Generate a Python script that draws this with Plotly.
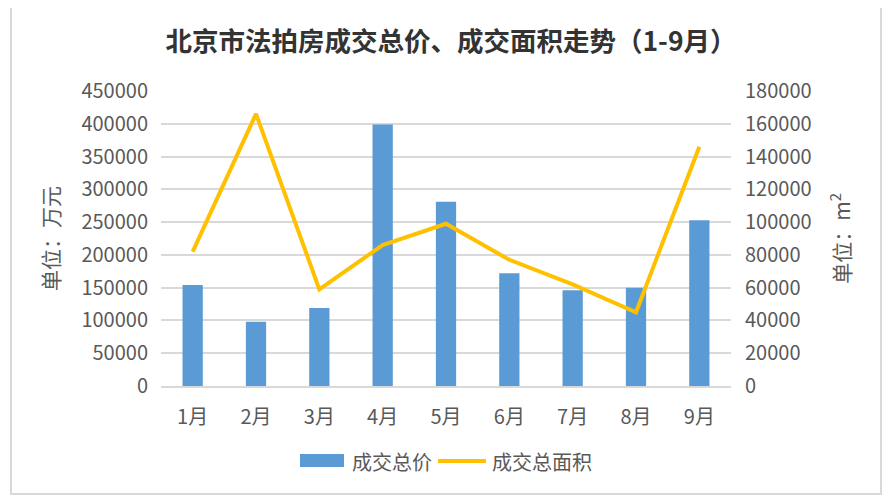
import plotly.graph_objects as go

months = ["1月", "2月", "3月", "4月", "5月", "6月", "7月", "8月", "9月"]
total_price = [154000, 98000, 119000, 399000, 281000, 172000, 146000, 150000, 253000]
total_area = [82000, 166000, 59000, 86000, 99000, 77000, 62000, 45000, 146000]
price_name = "成交总价"
area_name = "成交总面积"
title_text = "北京市法拍房成交总价、成交面积走势（1-9月）"

# page body has an 8px margin; work in window pixel coordinates
OFF = 8
W, H = 894 - OFF, 502 - OFF
# plot area in window pixels
X0, X1, Y0, Y1 = 161, 731, 91, 386
L, T = X0 - OFF, Y0 - OFF
R, B = W - (X1 - OFF), H - (Y1 - OFF)
PW, PH = X1 - X0, Y1 - Y0

def px(x):
    return (x - X0) / PW

def py(y):
    return (Y1 - y) / PH

FONT = "Noto Sans CJK SC, Microsoft YaHei, sans-serif"
GRAY = "#595959"
BLUE = "#5B9BD5"
GOLD = "#FFC000"

fig = go.Figure()
fig.add_trace(go.Bar(x=months, y=total_price, name=price_name, marker_color=BLUE,
                     marker_line_width=0, yaxis="y"))
fig.add_trace(go.Scatter(x=months, y=total_area, name=area_name, mode="lines",
                         line=dict(color=GOLD, width=4), yaxis="y2"))

fig.update_layout(
    width=W, height=H,
    margin=dict(l=L, r=R, t=T, b=B, autoexpand=False),
    paper_bgcolor="white", plot_bgcolor="white",
    font=dict(family=FONT, size=20, color=GRAY),
    showlegend=False,
    bargap=0.68,
    title=dict(text=f"<b>{title_text}</b>", x=0.5, xanchor="center", y=1 - (42 - OFF) / H,
               yanchor="middle", font=dict(size=26.5, color="#333333", family=FONT)),
    xaxis=dict(showgrid=False, showline=True, linecolor="#d9d9d9", linewidth=1.5,
               ticks="", ticklabelstandoff=12, tickfont=dict(size=20, color=GRAY)),
    yaxis=dict(range=[0, 450000], dtick=50000, showgrid=True, gridcolor="#d9d9d9",
               gridwidth=1.5, zeroline=False, showline=False, ticks="",
               ticklabelstandoff=12, tickformat="d", tickfont=dict(size=20, color=GRAY),
               title=dict(text="单位：万元", standoff=16, font=dict(size=21, color=GRAY))),
    yaxis2=dict(range=[0, 180000], dtick=20000, overlaying="y", side="right",
                showgrid=False, zeroline=False, showline=False, ticks="",
                ticklabelstandoff=13, tickformat="d", tickfont=dict(size=20, color=GRAY),
                title=dict(text="单位：m<sup>2</sup>", standoff=24, font=dict(size=21, color=GRAY))),
)

# frame
fig.add_shape(type="rect", xref="paper", yref="paper", x0=px(11), x1=px(881), y0=py(494), y1=py(7),
              line=dict(color="#d9d9d9", width=2), layer="below")

# custom legend
fig.add_shape(type="rect", xref="paper", yref="paper", x0=px(300), x1=px(344), y0=py(467), y1=py(454),
              fillcolor=BLUE, line=dict(width=0))
fig.add_shape(type="line", xref="paper", yref="paper", x0=px(438), x1=px(486), y0=py(461), y1=py(461),
              line=dict(color=GOLD, width=4))
fig.add_annotation(text=price_name, xref="paper", yref="paper", x=px(350), y=py(461),
                   xanchor="left", yanchor="middle", showarrow=False, font=dict(size=20, color=GRAY))
fig.add_annotation(text=area_name, xref="paper", yref="paper", x=px(490), y=py(461),
                   xanchor="left", yanchor="middle", showarrow=False, font=dict(size=20, color=GRAY))

fig.write_html("out.html")
